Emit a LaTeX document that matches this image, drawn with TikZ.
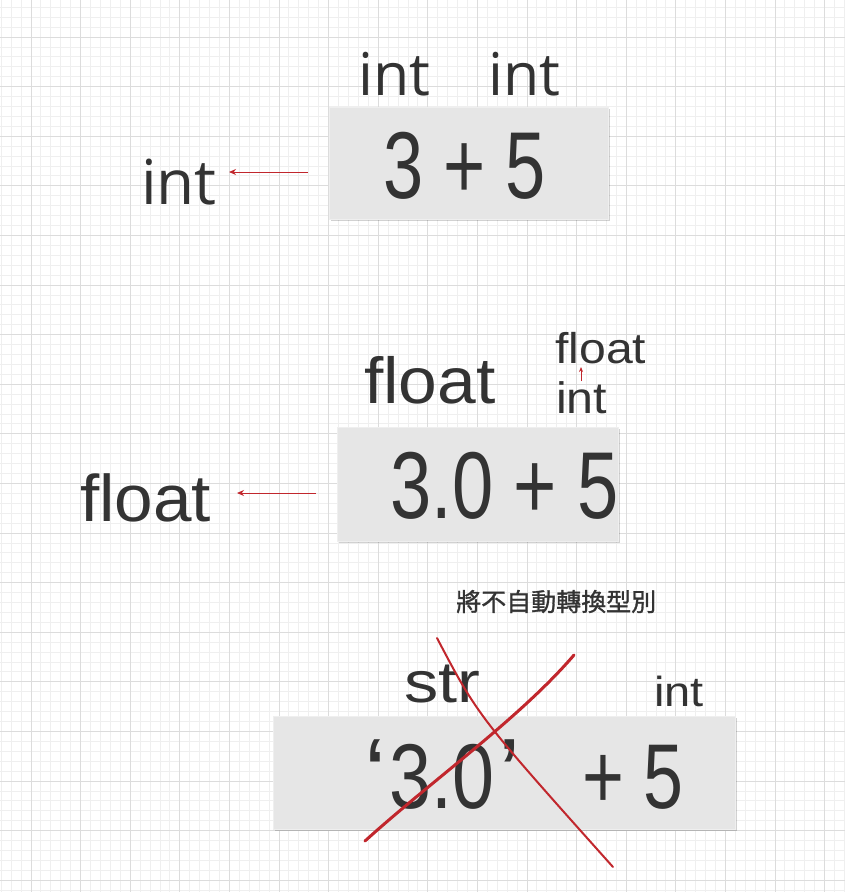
\documentclass[tikz,border=0pt]{standalone}
\usepackage{fontspec}
\usetikzlibrary{arrows.meta,shadows}
\newfontfamily\labfont{Liberation Sans}
\newfontfamily\osfont{Open Sans}
\newfontfamily\cjkfont[FakeBold=1.2]{Noto Sans CJK TC}
\definecolor{textc}{HTML}{333333}
\definecolor{boxc}{HTML}{E6E6E6}
\definecolor{boxedge}{HTML}{EFEFEF}
\definecolor{redc}{HTML}{C1272D}
\definecolor{gminor}{HTML}{EFEFEF}
\definecolor{gmajor}{HTML}{DCDCDC}
\tikzset{
  lab/.style={inner sep=0pt, anchor=base west, text=textc},
  codebox/.style={anchor=north west, inner sep=0pt, fill=boxc, draw=boxedge, line width=1pt,
    drop shadow={shadow xshift=1.2pt, shadow yshift=-1.2pt, opacity=0.18, fill=black}},
  redarrow/.style={draw=redc, line width=1pt, -{Stealth[length=7pt,width=6pt]}},
  gmin/.style={draw=gminor, line width=0.9pt},
  gmaj/.style={draw=gmajor, line width=1pt},
}
\begin{document}
\begin{tikzpicture}[x=1pt,y=-1pt]
\useasboundingbox (0,0) rectangle (845,892);
\fill[white] (0,0) rectangle (845,892);
\begin{scope}
\clip (0,0) rectangle (845,892);
\foreach \i in {0,...,85} \draw[gmin] ({1.24+9.92*\i},0) -- ({1.24+9.92*\i},892);
\foreach \j in {0,...,90} \draw[gmin] (0,{7.3+9.92*\j}) -- (845,{7.3+9.92*\j});
\foreach \i in {0,...,16} \draw[gmaj] ({31+49.6*\i},0) -- ({31+49.6*\i},892);
\foreach \j in {0,...,17} \draw[gmaj] (0,{37+49.6*\j}) -- (845,{37+49.6*\j});
\end{scope}

% ---- example 1 ----
\node[lab, font=\osfont\fontsize{59}{59}\selectfont] (i1) at (358,95) {int};
\node[lab, font=\osfont\fontsize{59}{59}\selectfont] (i2) at (488,95) {int};
\node[codebox, minimum width=279pt, minimum height=112pt] (b1) at (329,107) {};
\node[lab, font=\labfont\fontsize{95}{95}\selectfont] (e1) at (383,198) {\scalebox{0.76}[1]{3 + 5}};
\node[lab, font=\osfont\fontsize{62}{62}\selectfont] (r1) at (141,204) {int};
\coordinate (a1s) at (308,172);
\coordinate (a1e) at (229,172);
\draw[redarrow] (a1s) -- (a1e);

% ---- example 2 ----
\node[lab, font=\labfont\fontsize{65}{65}\selectfont] (f1) at (364,403) {\scalebox{1.07}[1]{float}};
\node[lab, font=\labfont\fontsize{43}{43}\selectfont] (f2) at (555,363) {\scalebox{1.12}[1]{float}};
\node[lab, font=\labfont\fontsize{44}{44}\selectfont] (i3) at (556,413) {\scalebox{1.1}[1]{int}};
\coordinate (a3s) at (581,381);
\coordinate (a3e) at (581,367);
\draw[draw=redc, line width=0.9pt, -{Stealth[length=5pt,width=4pt]}] (a3s) -- (a3e);
\node[codebox, minimum width=281pt, minimum height=114pt] (b2) at (337,427) {};
\node[lab, font=\labfont\fontsize{95}{95}\selectfont] (e2) at (390,518) {\scalebox{0.78}[1]{3.0 + 5}};
\node[lab, font=\labfont\fontsize{66}{66}\selectfont] (r2) at (80,521) {\scalebox{1.05}[1]{float}};
\coordinate (a2s) at (316,493);
\coordinate (a2e) at (237,493);
\draw[redarrow] (a2s) -- (a2e);

% ---- example 3 ----
\node[lab, font=\cjkfont\fontsize{25}{25}\selectfont] (note) at (456,611) {將不自動轉換型別};
\node[lab, font=\labfont\fontsize{58}{58}\selectfont] (s1) at (404,702) {\scalebox{1.18}[1]{str}};
\node[lab, font=\labfont\fontsize{42}{42}\selectfont] (i4) at (654,706) {\scalebox{1.12}[1]{int}};
\node[codebox, minimum width=462pt, minimum height=113pt] (b3) at (273,716) {};
\node[lab, font=\labfont\fontsize{100}{100}\selectfont] (q1) at (364,808) {‘};
\node[lab, font=\labfont\fontsize{92}{92}\selectfont] (e3a) at (389,808) {\scalebox{0.82}[1]{3.0}};
\node[lab, font=\labfont\fontsize{100}{100}\selectfont] (q2) at (498,808) {’};
\node[lab, font=\labfont\fontsize{92}{92}\selectfont] (e3b) at (582,808) {\scalebox{0.78}[1]{+ 5}};
\coordinate (xa1) at (437,638);
\coordinate (xa2) at (613,867);
\coordinate (xb1) at (365,841);
\coordinate (xb2) at (574,655);
\draw[draw=redc, line width=2pt, line cap=round] (xa1) .. controls (478,716) .. (xa2);
\draw[draw=redc, line width=3pt, line cap=round] (xb1) .. controls (430,782) and (520,718) .. (xb2);
\end{tikzpicture}
\end{document}
